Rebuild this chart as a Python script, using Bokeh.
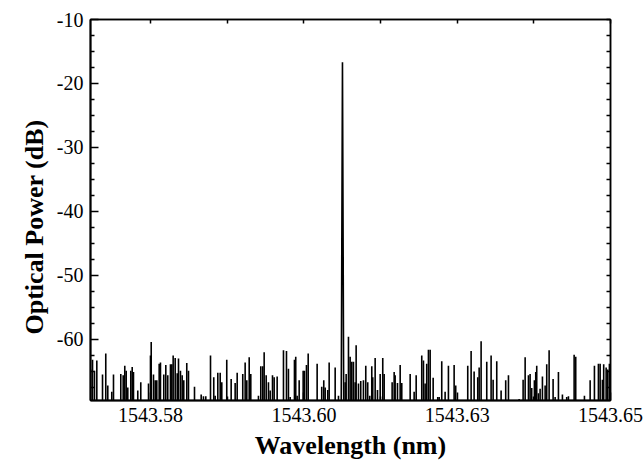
from bokeh.plotting import figure
from bokeh.models import LinearAxis, FixedTicker, Range1d, Title
from bokeh.embed import file_html
from bokeh.resources import INLINE

# ---- data ----
spike_wavelength_nm = [
    1543.56523, 1543.56553, 1543.56585, 1543.56623, 1543.56716, 1543.56769, 1543.56802, 1543.56867,
    1543.56895, 1543.57014, 1543.57053, 1543.57079, 1543.57102, 1543.57128, 1543.57177, 1543.57200,
    1543.57221, 1543.57291, 1543.57340, 1543.57466, 1543.57498, 1543.57510, 1543.57547, 1543.57575,
    1543.57601, 1543.57640, 1543.57661, 1543.57715, 1543.57748, 1543.57780, 1543.57824, 1543.57846,
    1543.57868, 1543.57901, 1543.57934, 1543.57955, 1543.57987, 1543.58015, 1543.58041, 1543.58090,
    1543.58118, 1543.58216, 1543.58325, 1543.58362, 1543.58400, 1543.58477, 1543.58530, 1543.58553,
    1543.58596, 1543.58635,
    1543.58661, 1543.58742, 1543.58814, 1543.58879, 1543.58912, 1543.59003, 1543.59042, 1543.59069,
    1543.59108, 1543.59134, 1543.59259, 1543.59297, 1543.59329, 1543.59352, 1543.59385, 1543.59422,
    1543.59450, 1543.59488, 1543.59515, 1543.59564, 1543.59667, 1543.59716, 1543.59748, 1543.59776,
    1543.59846, 1543.59867, 1543.59890, 1543.59923, 1543.59988, 1543.60009, 1543.60042, 1543.60070,
    1543.60216, 1543.60291, 1543.60324, 1543.60347, 1543.60389, 1543.60412, 1543.60510, 1543.60564,
    1543.60673, 1543.60689, 1543.60727, 1543.60754, 1543.60781, 1543.60808, 1543.60836, 1543.60852,
    1543.60890, 1543.60927, 1543.60971, 1543.61009, 1543.61041, 1543.61074, 1543.61107, 1543.61123,
    1543.61162, 1543.61200, 1543.61244, 1543.61286, 1543.61309, 1543.61439, 1543.61472, 1543.61488,
    1543.61526, 1543.61570, 1543.61596, 1543.61733, 1543.61798, 1543.61831, 1543.61922, 1543.61950,
    1543.61977, 1543.62003, 1543.62031, 1543.62059, 1543.62108, 1543.62183, 1543.62206, 1543.62248,
    1543.62303, 1543.62357, 1543.62450, 1543.62476, 1543.62672, 1543.62727, 1543.62776, 1543.62835,
    1543.62858, 1543.62890,
    1543.62982, 1543.63053, 1543.63086, 1543.63145, 1543.63216, 1543.63291, 1543.63336, 1543.63510,
    1543.63575, 1543.63608, 1543.63662, 1543.63689, 1543.63715, 1543.63759, 1543.63781, 1543.63797,
    1543.63825, 1543.63852, 1543.63890, 1543.63934, 1543.63960, 1543.63999, 1543.64064, 1543.64097,
    1543.64151, 1543.64216, 1543.64286, 1543.64314, 1543.64407, 1543.64433, 1543.64575, 1543.64668,
    1543.64738, 1543.64803, 1543.64831, 1543.64868, 1543.64889, 1543.64929, 1543.64955, 1543.64982,
]
spike_power_db = [
    -64.7, -63.2, -64.9, -63.3, -65.5, -62.2, -67.2, -68.2,
    -65.5, -65.4, -65.6, -64.1, -64.9, -67.5, -64.9, -64.3,
    -65.1, -68.0, -66.7, -66.9, -62.5, -60.4, -65.5, -66.4,
    -66.4, -63.8, -63.6, -65.5, -64.0, -65.6, -63.9, -63.9,
    -62.5, -62.9, -65.3, -63.0, -64.9, -65.6, -66.4, -63.7,
    -64.9, -67.4, -68.6, -68.9, -68.9, -62.5, -65.9, -68.8,
    -65.2, -65.2,
    -66.7, -63.2, -66.2, -66.8, -65.2, -65.4, -63.6, -66.4,
    -62.8, -65.4, -68.8, -64.2, -64.2, -62.0, -65.6, -66.7,
    -68.0, -65.6, -65.9, -65.8, -61.7, -61.8, -64.6, -69.0,
    -63.2, -62.7, -68.8, -66.4, -64.9, -64.9, -64.0, -62.2,
    -63.8, -67.4, -66.4, -67.5, -67.9, -63.6, -64.4, -68.8,
    -66.7, -65.4, -59.6, -62.7, -63.5, -63.5, -66.7, -60.9,
    -66.9, -66.5, -66.4, -64.1, -66.7, -68.8, -64.2, -65.9,
    -62.9, -67.9, -65.4, -62.9, -65.4, -66.7, -65.1, -65.6,
    -66.8, -64.0, -66.8, -65.4, -68.2, -65.6, -62.5, -63.3,
    -66.9, -63.8, -61.6, -61.6, -66.0, -69.0, -69.0, -63.4,
    -68.2, -64.1, -64.0, -67.2, -64.1, -61.8, -65.0, -65.9,
    -64.4, -60.3,
    -63.5, -62.5, -66.3, -63.4, -68.0, -66.4, -65.6, -69.3,
    -66.3, -62.8, -65.6, -65.4, -67.6, -66.4, -65.1, -64.1,
    -68.4, -67.7, -65.8, -67.2, -63.9, -61.7, -66.2, -69.0,
    -65.1, -68.6, -69.0, -68.9, -62.4, -62.7, -68.8, -66.4,
    -64.1, -63.8, -63.8, -66.3, -63.9, -64.4, -64.7, -63.8,
]
peak_wavelength_nm = [1543.60608, 1543.60629, 1543.60650]
peak_power_db = [-72.0, -16.7, -72.0]
noise_floor_db = -75.0

x_ticks = [1543.575, 1543.600, 1543.625, 1543.650]
x_tick_labels = ["1543.58", "1543.60", "1543.63", "1543.65"]
x_minor_ticks = [1543.5875, 1543.6125, 1543.6375]
y_ticks = [-60, -50, -40, -30, -20, -10]
y_tick_labels = ["-60", "-50", "-40", "-30", "-20", "-10"]
y_minor_ticks = [-67.5, -65, -62.5, -57.5, -55, -52.5, -47.5, -45, -42.5, -37.5, -35, -32.5,
                 -27.5, -25, -22.5, -17.5, -15, -12.5]

x_title = "Wavelength (nm)"
y_title = "Optical Power (dB)"

FONT = "Liberation Serif"

p = figure(width=644, height=465, output_backend="svg", toolbar_location=None,
           x_range=Range1d(1543.5652, 1543.650), y_range=Range1d(-69.55, -10),
           min_border_left=90, min_border_right=34, min_border_top=19, min_border_bottom=65)
p.background_fill_color = "white"
p.border_fill_color = "white"
p.grid.visible = False
p.outline_line_color = "black"
p.outline_line_width = 1.5

p.segment(x0=spike_wavelength_nm, y0=[noise_floor_db] * len(spike_power_db),
          x1=spike_wavelength_nm, y1=spike_power_db, line_color="black", line_width=1.6)
p.line(peak_wavelength_nm, peak_power_db, line_color="black", line_width=1.6)

xa = p.xaxis[0]
xa.ticker = FixedTicker(ticks=x_ticks, minor_ticks=x_minor_ticks)
xa.major_label_overrides = {t: l for t, l in zip(x_ticks, x_tick_labels)}
ya = p.yaxis[0]
ya.ticker = FixedTicker(ticks=y_ticks, minor_ticks=y_minor_ticks)
ya.major_label_overrides = {t: l for t, l in zip(y_ticks, y_tick_labels)}

for ax in (xa, ya):
    ax.axis_line_width = 2
    ax.axis_line_color = "black"
    ax.major_tick_in = 8
    ax.major_tick_out = 0
    ax.minor_tick_in = 4
    ax.minor_tick_out = 0
    ax.major_tick_line_width = 1.5
    ax.minor_tick_line_width = 1.5
    ax.major_label_text_font = FONT
    ax.major_label_text_font_size = "20px"
    ax.major_label_text_color = "black"
xa.major_label_standoff = 7
ya.major_label_standoff = 7

# top and right frame axes: ticks only (all as minor ticks, so no labels)
top = LinearAxis(ticker=FixedTicker(ticks=[], minor_ticks=sorted(x_ticks + x_minor_ticks)),
                 minor_tick_in=4, minor_tick_out=0, axis_line_width=1.5, minor_tick_line_width=1.5)
right = LinearAxis(ticker=FixedTicker(ticks=[], minor_ticks=sorted(y_ticks + y_minor_ticks)),
                   minor_tick_in=4, minor_tick_out=0, axis_line_width=1.5, minor_tick_line_width=1.5)
p.add_layout(top, "above")
p.add_layout(right, "right")

# axis titles
p.add_layout(Title(text=x_title, align="center", standoff=8,
                   text_font=FONT, text_font_style="bold", text_font_size="26px",
                   text_color="black"), "below")
p.add_layout(Title(text=y_title, align="left", offset=66, standoff=9,
                   text_font=FONT, text_font_style="bold", text_font_size="26px",
                   text_color="black"), "left")

open("out.html", "w").write(file_html(p, INLINE))
